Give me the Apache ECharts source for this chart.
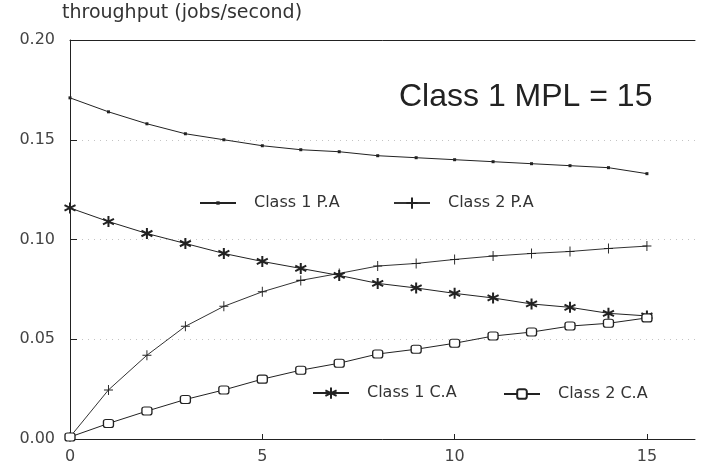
<!DOCTYPE html>
<html>
<head>
<meta charset="utf-8">
<script src="https://cdn.jsdelivr.net/npm/echarts@6/dist/echarts.min.js"></script>
<style>html,body{margin:0;padding:0;background:#fff;}#c{width:702px;height:476px;}</style>
</head>
<body>
<div id="c"></div>
<script>
var xValues = [0,1,2,3,4,5,6,7,8,9,10,11,12,13,14,15];
var class1PA = [0.171,0.164,0.158,0.153,0.150,0.147,0.145,0.144,0.142,0.141,0.140,0.139,0.138,0.137,0.136,0.133];
var class2PA = [0.001,0.0246,0.042,0.0565,0.0665,0.0738,0.0795,0.083,0.0867,0.088,0.090,0.0917,0.093,0.094,0.0955,0.0967];
var class1CA = [0.1158,0.109,0.103,0.098,0.093,0.089,0.0855,0.082,0.078,0.0757,0.073,0.0707,0.0677,0.066,0.063,0.0617];
var class2CA = [0.001,0.0078,0.014,0.0198,0.0246,0.030,0.0345,0.038,0.0426,0.045,0.048,0.0516,0.0536,0.0566,0.058,0.0607];
var xTicks = [0,5,10,15];
var seriesNames = ['Class 1 P.A','Class 2 P.A','Class 1 C.A','Class 2 C.A'];
var titleText = 'Class 1 MPL = 15';
var yTitle = 'throughput (jobs/second)';

function pairs(vals){ return xValues.map(function(x,i){ return [x, vals[i]]; }); }

var ink = '#222';
var font = 'DejaVu Sans';
var chart = echarts.init(document.getElementById('c'), null, {renderer:'canvas'});

function legendAt(name, left, centerY, h){
  return {
    data:[name], left:left, top:centerY - h/2, padding:0, itemWidth:36, itemHeight:h,
    textStyle:{fontFamily:font, fontSize:16, color:'#333', padding:[0,0,0,13]}
  };
}

chart.setOption({
  animation:false,
  backgroundColor:'#fff',
  title:[
    {text:titleText, left:399, top:81, padding:0,
     textStyle:{fontFamily:'Liberation Sans', fontSize:32, fontWeight:'normal', color:'#222'}},
    {text:yTitle, left:62, top:4, padding:0,
     textStyle:{fontFamily:font, fontSize:19, fontWeight:'normal', color:'#333'}}
  ],
  legend:[
    legendAt(seriesNames[0], 199, 202, 14),
    legendAt(seriesNames[1], 393, 202, 14),
    legendAt(seriesNames[2], 312, 392, 14),
    legendAt(seriesNames[3], 503, 392, 12)
  ],
  grid:{left:70, right:7, top:40, bottom:37, containLabel:false},
  xAxis:[{
    type:'value', min:0, max:16.25, interval:5,
    axisLine:{show:true, lineStyle:{color:ink, width:1}},
    axisTick:{show:true, inside:true, length:5, customValues:xTicks, lineStyle:{color:ink}},
    axisLabel:{customValues:xTicks, margin:10, fontFamily:font, fontSize:16, color:'#444'},
    splitLine:{show:false}
  },{
    type:'value', min:0, max:16.25, position:'top',
    axisLine:{show:true, lineStyle:{color:ink, width:1}},
    axisTick:{show:false}, axisLabel:{show:false}, splitLine:{show:false}
  }],
  yAxis:{
    type:'value', min:0, max:0.2, interval:0.05,
    axisLine:{show:true, lineStyle:{color:ink, width:1}},
    axisTick:{show:true, inside:true, length:7, lineStyle:{color:ink}},
    axisLabel:{margin:15, fontFamily:font, fontSize:16, color:'#444',
      formatter:function(v){ return v.toFixed(2); }},
    splitLine:{show:true, lineStyle:{color:'#c4c4c4', type:[1,5], width:1}}
  },
  series:[
    {name:seriesNames[0], type:'line', data:pairs(class1PA),
     symbol:'path://M0,0M10,10M3.5,3.5L6.5,3.5L6.5,6.5L3.5,6.5Z', symbolSize:10,
     itemStyle:{color:ink}, lineStyle:{color:ink, width:1}},
    {name:seriesNames[1], type:'line', data:pairs(class2PA),
     symbol:'path://M5,0L5,10M0,5L10,5', symbolSize:[9,10],
     itemStyle:{color:'none', borderColor:ink, borderWidth:1}, lineStyle:{color:'#333', width:1}},
    {name:seriesNames[2], type:'line', data:pairs(class1CA),
     symbol:'path://M5,0L5,10M0.7,2.5L9.3,7.5M0.7,7.5L9.3,2.5', symbolSize:11,
     itemStyle:{color:'none', borderColor:ink, borderWidth:2}, lineStyle:{color:ink, width:1}},
    {name:seriesNames[3], type:'line', data:pairs(class2CA),
     symbol:'roundRect', symbolSize:[10,8],
     itemStyle:{color:'#fff', borderColor:ink, borderWidth:1.2}, lineStyle:{color:ink, width:1}}
  ]
});
</script>
</body>
</html>
